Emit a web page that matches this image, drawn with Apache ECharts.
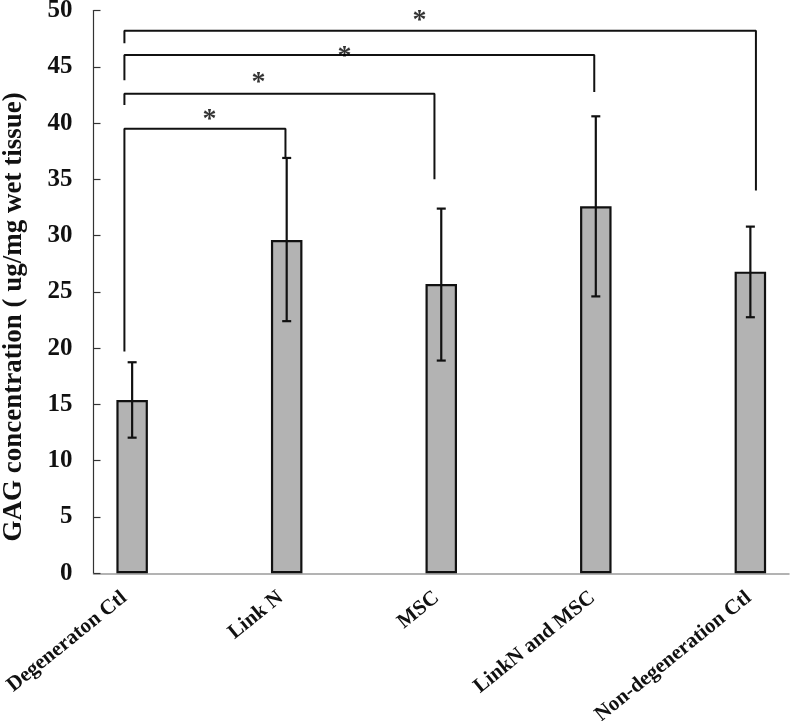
<!DOCTYPE html>
<html>
<head>
<meta charset="utf-8">
<script src="https://cdn.jsdelivr.net/npm/echarts@6/dist/echarts.min.js"></script>
<style>html,body{margin:0;padding:0;background:#fff;}#c{width:792px;height:721px;}</style>
</head>
<body>
<div id="c"></div>
<script>
// ---- data ----
var categories = ['Degeneraton Ctl', 'Link N', 'MSC', 'LinkN and MSC', 'Non-degeneration Ctl'];
var means = [15.4, 29.6, 25.7, 32.6, 26.8];
var errLow = [12.05, 22.4, 18.9, 24.6, 22.75];
var errHigh = [18.75, 36.9, 32.4, 40.6, 30.8];
var yTicks = [0, 5, 10, 15, 20, 25, 30, 35, 40, 45, 50];
// significance brackets (x in category units, y in data units)
var bracketLeftX = -0.05;
var bracketRightX = [0.992, 1.956, 2.99, 4.036];
var bracketTop = [39.5, 42.6, 46.05, 48.2];
var bracketLeftEnd = [19.7, 41.6, 43.8, 47.1];
var bracketRightEnd = [36.9, 35.0, 42.75, 34.0];
var starX = [0.5, 0.817, 1.374, 1.859];
var starY = [40.3, 43.6, 45.9, 49.1];

var serif = '"Liberation Serif", "DejaVu Serif", serif';

var series = [];
series.push({
  type: 'bar',
  data: means.map(function (v, i) { return [i, v]; }),
  barWidth: 31.5,
  itemStyle: { color: '#b3b3b3', borderColor: '#111', borderWidth: 2.2 },
  z: 2
});
series.push({
  type: 'custom',
  data: means.map(function (v, i) { return [i, errLow[i], errHigh[i]]; }),
  renderItem: function (params, api) {
    var lo = api.coord([api.value(0), api.value(1)]);
    var hi = api.coord([api.value(0), api.value(2)]);
    var cw = 4.5;
    var st = { stroke: '#111', lineWidth: 2.2 };
    return {
      type: 'group',
      children: [
        { type: 'line', shape: { x1: lo[0], y1: lo[1], x2: hi[0], y2: hi[1] }, style: st },
        { type: 'line', shape: { x1: lo[0] - cw, y1: lo[1], x2: lo[0] + cw, y2: lo[1] }, style: st },
        { type: 'line', shape: { x1: hi[0] - cw, y1: hi[1], x2: hi[0] + cw, y2: hi[1] }, style: st }
      ]
    };
  },
  z: 3
});
for (var b = 0; b < bracketRightX.length; b++) {
  series.push({
    type: 'line',
    data: [
      [bracketLeftX, bracketLeftEnd[b]],
      [bracketLeftX, bracketTop[b]],
      [bracketRightX[b], bracketTop[b]],
      [bracketRightX[b], bracketRightEnd[b]]
    ],
    symbol: 'none',
    lineStyle: { color: '#111', width: 2 },
    silent: true,
    z: 4
  });
}
series.push({
  type: 'scatter',
  data: starX.map(function (x, i) { return [x, starY[i]]; }),
  symbolSize: 1,
  itemStyle: { color: 'rgba(0,0,0,0)' },
  label: {
    show: true, position: 'inside', formatter: '*',
    fontFamily: serif, fontWeight: 'bold', fontSize: 28, color: '#000'
  },
  z: 5
});

var chart = echarts.init(document.getElementById('c'));
chart.setOption({
  animation: false,
  backgroundColor: '#fff',
  grid: { left: 93.5, right: 3, top: 10.5, bottom: 147.7, containLabel: false, outerBoundsMode: 'none' },
  xAxis: {
    type: 'value',
    min: -0.25,
    max: 4.25,
    splitLine: { show: false },
    axisTick: { show: false },
    axisLine: { show: true, onZero: false, lineStyle: { color: '#9a9a9a', width: 1.5 } },
    axisLabel: {
      customValues: [-0.05, 0.96, 1.97, 2.98, 3.99],
      formatter: function (v) { return categories[Math.round(v)]; },
      rotate: 39,
      margin: 22,
      fontFamily: serif, fontWeight: 'bold', fontSize: 21, color: '#111'
    }
  },
  yAxis: {
    type: 'value',
    min: 0, max: 50, interval: 5,
    name: 'GAG concentration ( ug/mg wet tissue)',
    nameLocation: 'middle',
    nameGap: 66,
    nameRotate: 90,
    nameTextStyle: { fontFamily: serif, fontWeight: 'bold', fontSize: 27, color: '#111', padding: [0, 50, 0, 0] },
    splitLine: { show: false },
    axisLine: { show: true, onZero: false, lineStyle: { color: '#333', width: 1.2 } },
    axisTick: { show: true, inside: true, length: 7, lineStyle: { color: '#333', width: 1.2 } },
    axisLabel: {
      margin: 21,
      fontFamily: serif, fontWeight: 'bold', fontSize: 25, color: '#111',
      formatter: function (v) { return yTicks.indexOf(v) >= 0 ? String(v) : ''; }
    }
  },
  series: series
});
</script>
</body>
</html>
